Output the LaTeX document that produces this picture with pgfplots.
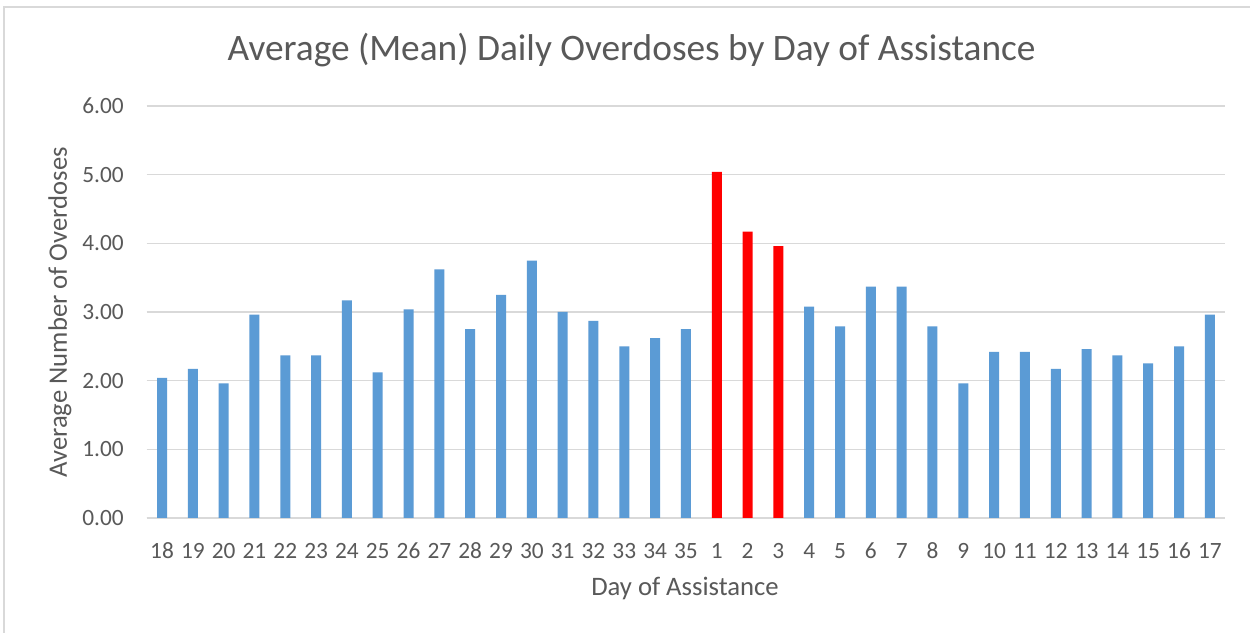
\documentclass[border=0pt]{standalone}
\usepackage{pgfplots}
\pgfplotsset{compat=1.18}
\usepackage{fontspec}
\setmainfont{Carlito}
\definecolor{barblue}{HTML}{5B9BD5}
\definecolor{txt}{HTML}{595959}
\definecolor{grid}{HTML}{D9D9D9}
\begin{document}
\begin{tikzpicture}
\useasboundingbox (0pt,0pt) rectangle (750pt,379.8pt);
\fill[white] (0pt,0pt) rectangle (750pt,379.8pt);
\draw[grid,line width=1.2pt] (2.4pt,0pt) -- (2.4pt,375.6pt) -- (750pt,375.6pt);
\begin{axis}[
  at={(87.96pt,69pt)}, anchor=south west,
  scale only axis, width=647.2pt, height=247.2pt,
  xmin=-0.5, xmax=34.5, ymin=0, ymax=6,
  ytick={0,1,...,6},
  yticklabel style={/pgf/number format/fixed,/pgf/number format/fixed zerofill,/pgf/number format/precision=2},
  /pgf/number format/assume math mode=true,
  xtick={0,...,34},
  xticklabels={18,19,20,21,22,23,24,25,26,27,28,29,30,31,32,33,34,35,1,2,3,4,5,6,7,8,9,10,11,12,13,14,15,16,17},
  major tick length=0pt,
  axis x line*=bottom, axis y line*=left,
  y axis line style={draw=none},
  x axis line style={draw=grid,line width=0.9pt,-},
  ymajorgrids, grid style={draw=grid,line width=0.9pt},
  tick label style={font=\fontsize{14pt}{15pt}\selectfont, text=txt},
  yticklabel style={xshift=-10.2pt},
  xticklabel style={yshift=-11.5pt},
  ybar, bar width=6pt, bar shift=0pt,
  clip=false,
]
\addplot[fill=barblue, draw=none] coordinates {
(0,2.04) (1,2.17) (2,1.96) (3,2.96) (4,2.37) (5,2.37) (6,3.17) (7,2.12) (8,3.04)
(9,3.62) (10,2.75) (11,3.25) (12,3.75) (13,3.00) (14,2.87) (15,2.50) (16,2.62) (17,2.75)
(21,3.08) (22,2.79) (23,3.37) (24,3.37) (25,2.79) (26,1.96) (27,2.42) (28,2.42)
(29,2.17) (30,2.46) (31,2.37) (32,2.25) (33,2.50) (34,2.96)
};
\addplot[fill=red, draw=none] coordinates {(18,5.04) (19,4.17) (20,3.96)};
\end{axis}
\node[text=txt, font=\fontsize{22.4pt}{25pt}\selectfont] at (378.9pt,349.8pt) {Average (Mean) Daily Overdoses by Day of Assistance};
\node[text=txt, font=\fontsize{16pt}{18pt}\selectfont] at (411pt,27pt) {Day of Assistance};
\node[text=txt, font=\fontsize{16pt}{18pt}\selectfont, rotate=90] at (36pt,192.3pt) {Average Number of Overdoses};
\end{tikzpicture}
\end{document}
